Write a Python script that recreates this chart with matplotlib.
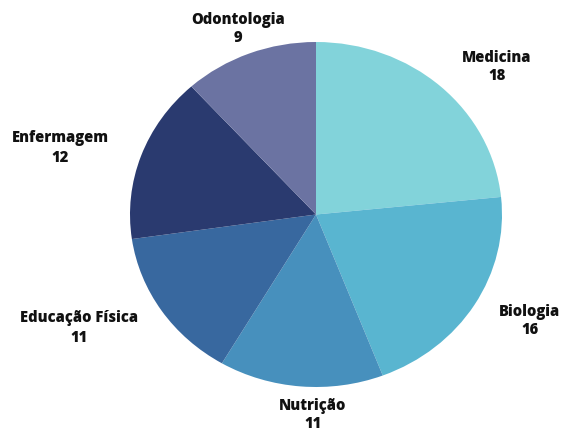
import matplotlib
matplotlib.use("Agg")
import matplotlib.pyplot as plt

cursos = ["Medicina", "Biologia", "Nutrição", "Educação Física", "Enfermagem", "Odontologia"]
valores = [18, 16, 11, 11, 12, 9]
cores = ["#82d3da", "#59b5d0", "#4790bd", "#38689f", "#2a3a6f", "#6b73a2"]

# label positions in pixels (x, y from top)
pos_rotulos = [(497, 67), (530, 321), (313, 415), (79, 328), (60, 148), (238, 29)]

W, H = 566, 433
fig = plt.figure(figsize=(W / 100, H / 100), dpi=100)

# the pie is a bit wider than tall, so the axes box sets the ellipse
left, right, top, bottom = 130, 502, 42, 387
ax = fig.add_axes([left / W, (H - bottom) / H, (right - left) / W, (bottom - top) / H])
ax.pie(valores, colors=cores, startangle=90, counterclock=False,
       wedgeprops=dict(linewidth=0))
ax.set_aspect("auto")
ax.set_xlim(-1, 1)
ax.set_ylim(-1, 1)
ax.axis("off")

for nome, v, (x, y) in zip(cursos, valores, pos_rotulos):
    fig.text(x / W, 1 - y / H, f"{nome}\n{v}", ha="center", va="center",
             fontsize=10.6, fontweight="heavy", family=["Open Sans", "DejaVu Sans"],
             linespacing=1.25, color="#111111")

fig.savefig("out.png", dpi=100, facecolor="white")
